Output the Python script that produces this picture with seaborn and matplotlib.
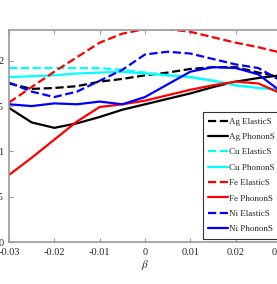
import numpy as np
import pandas as pd
import matplotlib
matplotlib.use('Agg')
import matplotlib.pyplot as plt
import seaborn as sns

beta = [-0.03, -0.025, -0.02, -0.015, -0.01, -0.005, 0.0, 0.005, 0.01, 0.015, 0.02, 0.025, 0.03]

ag_elastic = [1.75, 1.69, 1.70, 1.72, 1.77, 1.80, 1.84, 1.87, 1.91, 1.93, 1.93, 1.87, 1.82]
ag_phonon = [1.48, 1.32, 1.26, 1.31, 1.38, 1.46, 1.52, 1.58, 1.64, 1.71, 1.77, 1.81, 1.84]
cu_elastic = [1.92, 1.92, 1.92, 1.92, 1.92, 1.90, 1.87, 1.84, 1.82, 1.78, 1.73, 1.70, 1.68]
cu_phonon = [1.82, 1.83, 1.84, 1.86, 1.87, 1.88, 1.86, 1.84, 1.82, 1.78, 1.73, 1.70, 1.68]
fe_elastic = [1.54, 1.71, 1.88, 2.04, 2.20, 2.30, 2.35, 2.35, 2.32, 2.26, 2.20, 2.15, 2.09]
fe_phonon = [0.74, 0.93, 1.13, 1.33, 1.49, 1.52, 1.56, 1.62, 1.68, 1.73, 1.77, 1.75, 1.64]
ni_elastic = [1.76, 1.66, 1.60, 1.66, 1.78, 1.90, 2.07, 2.10, 2.08, 2.02, 1.96, 1.92, 1.78]
ni_phonon = [1.52, 1.50, 1.53, 1.52, 1.55, 1.52, 1.60, 1.74, 1.88, 1.93, 1.92, 1.85, 1.66]

series = [
    ('Ag ElasticS', ag_elastic, 'black', '--'),
    ('Ag PhononS', ag_phonon, 'black', '-'),
    ('Cu ElasticS', cu_elastic, 'cyan', '--'),
    ('Cu PhononS', cu_phonon, 'cyan', '-'),
    ('Fe ElasticS', fe_elastic, 'red', '--'),
    ('Fe PhononS', fe_phonon, 'red', '-'),
    ('Ni ElasticS', ni_elastic, 'blue', '--'),
    ('Ni PhononS', ni_phonon, 'blue', '-'),
]

sns.set_style('ticks')
plt.rcParams['font.family'] = ['Liberation Serif', 'DejaVu Serif']
plt.rcParams['mathtext.fontset'] = 'stix'

fig = plt.figure(figsize=(2.77, 2.84), dpi=100)
ax = fig.add_axes([9/277, 42/284, 272/277, 212/284])

for name, vals, col, ls in series:
    sns.lineplot(x=beta, y=vals, color=col, linestyle=ls, linewidth=1.6, label=name, ax=ax)

ax.set_xlim(-0.03, 0.03)
ax.set_ylim(0, 2.34)
ax.set_xticks([-0.03, -0.02, -0.01, 0, 0.01, 0.02, 0.03])
ax.set_xticklabels(['-0.03', '-0.02', '-0.01', '0', '0.01', '0.02', '0.03'])
ax.set_yticks([0, 0.5, 1, 1.5, 2])
ax.set_yticklabels(['0', '0.5', '1', '1.5', '2'])
ax.tick_params(direction='in', length=3, width=0.8, color='#999999', labelsize=7.5,
               top=True, right=True, pad=4)
for s in ax.spines.values():
    s.set_color('#999999')
    s.set_linewidth(1.2)
ax.set_xlabel(r'$\beta$', fontsize=8, labelpad=1)
ax.set_ylabel('')

leg = ax.legend(loc='upper left', bbox_to_anchor=(203/277, 1 - 112/284),
                bbox_transform=fig.transFigure, borderaxespad=0, fontsize=6.5,
                handlelength=2.2, handletextpad=0.1, labelspacing=0.78,
                fancybox=False, frameon=True, edgecolor='black', borderpad=0.6)
leg.get_frame().set_linewidth(0.8)

fig.savefig('out.png', dpi=100)
